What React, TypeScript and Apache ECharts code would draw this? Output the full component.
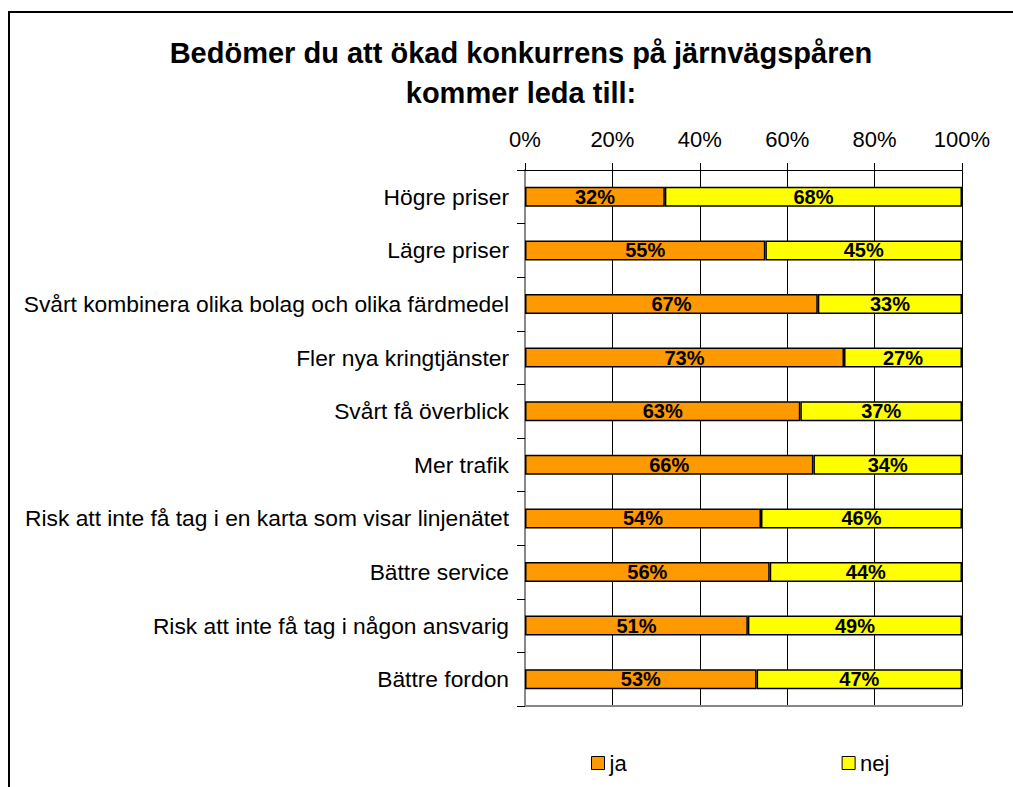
import React, { useEffect, useRef } from "react";
import * as echarts from "echarts";

const titleText = "Bedömer du att ökad konkurrens på järnvägspåren\nkommer leda till:";
const categories = [
  "Högre priser",
  "Lägre priser",
  "Svårt kombinera olika bolag och olika färdmedel",
  "Fler nya kringtjänster",
  "Svårt få överblick",
  "Mer trafik",
  "Risk att inte få tag i en karta som visar linjenätet",
  "Bättre service",
  "Risk att inte få tag i någon ansvarig",
  "Bättre fordon",
];
const jaValues = [32, 55, 67, 73, 63, 66, 54, 56, 51, 53];
const nejValues = [68, 45, 33, 27, 37, 34, 46, 44, 49, 47];
const seriesNames = ["ja", "nej"];

const FONT = "'Liberation Sans', Arial, sans-serif";

export default function App() {
  const ref = useRef<HTMLDivElement>(null);
  useEffect(() => {
    if (!ref.current) return;
    const chart = echarts.init(ref.current, null, { renderer: "svg" });
    const labelStyle = {
      show: true,
      position: "inside",
      formatter: "{c}%",
      color: "#000",
      fontWeight: "bold",
      fontSize: 20,
      fontFamily: FONT,
    };
    chart.setOption({
      animation: false,
      backgroundColor: "#fff",
      textStyle: { fontFamily: FONT },
      title: {
        text: titleText,
        left: 516,
        top: 28,
        textAlign: "center",
        textStyle: {
          fontFamily: FONT,
          fontSize: 29,
          fontWeight: "bold",
          color: "#000",
          lineHeight: 40,
        },
      },
      graphic: [
        {
          type: "rect",
          shape: { x: 9, y: 12, width: 1030, height: 800 },
          style: { fill: "none", stroke: "#000", lineWidth: 2 },
          silent: true,
        },
      ],
      legend: {
        data: seriesNames,
        left: 586,
        top: 747,
        itemWidth: 13,
        itemHeight: 13,
        itemGap: 215,
        icon: "rect",
        textStyle: { fontFamily: FONT, fontSize: 22, color: "#000" },
        itemStyle: { borderColor: "#000", borderWidth: 1 },
      },
      grid: { left: 525, right: 51, top: 170, bottom: 81, containLabel: false },
      xAxis: [
        {
          type: "value",
          position: "top",
          min: 0,
          max: 100,
          interval: 20,
          axisLine: { show: true, lineStyle: { color: "#000", width: 1 } },
          axisTick: { show: true, length: 7, lineStyle: { color: "#000" } },
          axisLabel: {
            formatter: "{value}%",
            fontSize: 22,
            fontFamily: FONT,
            color: "#000",
            margin: 20,
          },
          splitLine: { show: true, lineStyle: { color: "#000", width: 1 } },
        },
        {
          type: "value",
          position: "bottom",
          min: 0,
          max: 100,
          axisLine: { show: true, lineStyle: { color: "#888", width: 2 } },
          axisTick: { show: false },
          axisLabel: { show: false },
          splitLine: { show: false },
        },
      ],
      yAxis: [
        {
          type: "category",
          data: categories,
          inverse: true,
          axisLine: { show: true, lineStyle: { color: "#000", width: 1 } },
          axisTick: { show: true, length: 8, lineStyle: { color: "#000" } },
          axisLabel: {
            fontSize: 22.8,
            fontFamily: FONT,
            color: "#000",
            margin: 16,
          },
        },
        {
          type: "category",
          data: categories,
          inverse: true,
          position: "right",
          axisLine: { show: true, lineStyle: { color: "#888", width: 2 } },
          axisTick: { show: false },
          axisLabel: { show: false },
        },
      ],
      series: [
        {
          name: seriesNames[0],
          type: "bar",
          stack: "total",
          data: jaValues,
          barWidth: 20,
          itemStyle: { color: "#FF9900", borderColor: "#000", borderWidth: 1.5 },
          label: labelStyle,
        },
        {
          name: seriesNames[1],
          type: "bar",
          stack: "total",
          data: nejValues,
          barWidth: 20,
          itemStyle: { color: "#FFFF00", borderColor: "#000", borderWidth: 1.5 },
          label: labelStyle,
        },
      ],
    });
    return () => chart.dispose();
  }, []);
  return (
    <div
      ref={ref}
      style={{ position: "absolute", left: 0, top: 0, width: 1013, height: 787 }}
    />
  );
}
